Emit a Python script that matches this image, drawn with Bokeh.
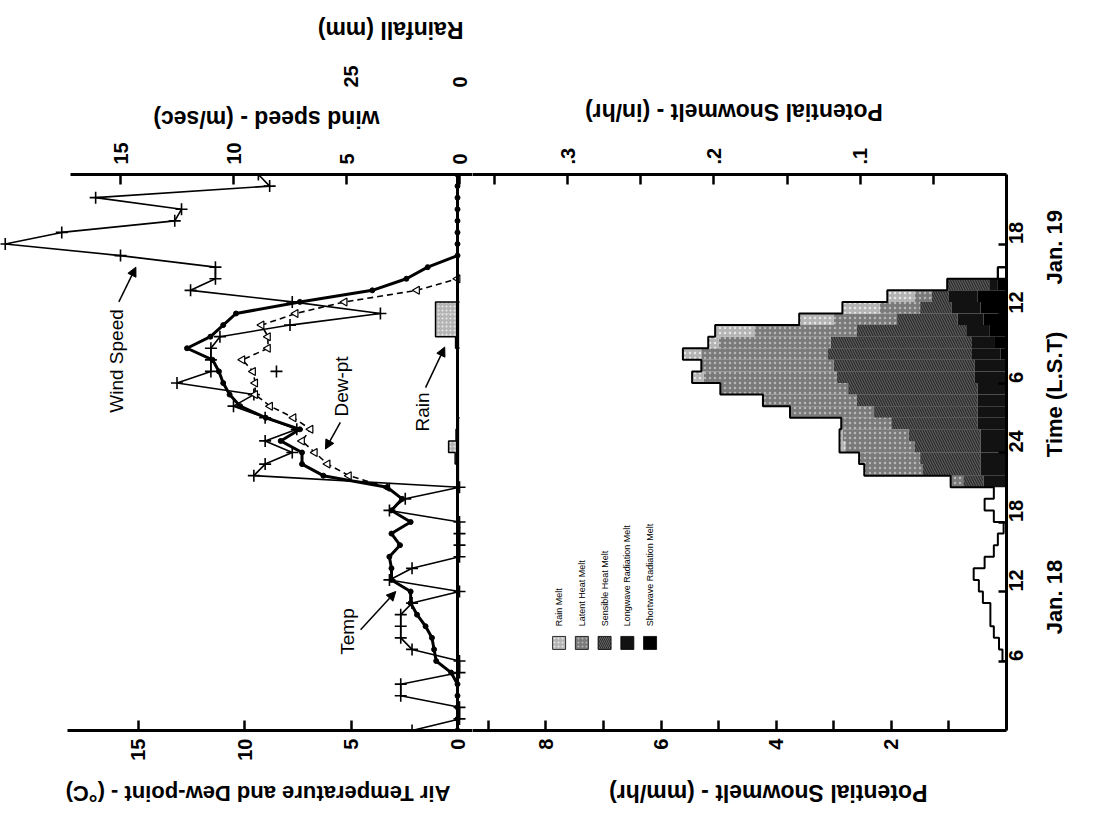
import math
from bokeh.plotting import figure
from bokeh.models import (Range1d, LinearAxis, FixedTicker, Span, Label, Arrow,
                          NormalHead, ColumnDataSource)
from bokeh.layouts import row
from bokeh.embed import file_html
from bokeh.resources import INLINE
from bokeh.core.properties import value

FONT = "Liberation Sans"

# ---------------- data (hours from Jan 18 00:00 L.S.T.) ----------------
hours = list(range(0, 49))
wind_speed = [2.1, 0, 0, 2.6, 2.6, 0, 0, 2.1, 2.6, 2.6, 2.6, 2.1, 0, 3.1, 2.1, 0, 0, 0, 0,
              3.1, 2.4, 0, 9.1, 8.6, 7.4, 8.6, 7.2, 8.6, 10.0, 9.1, 12.5, 11.0, 11.0, 11.0,
              10.6, 7.5, 3.5, 7.4, 11.9, 10.8, 10.8, 15.0, 20.1, 17.6, 12.6, 12.3, 16.1, 8.4, 8.9]
air_temp = [0, 0, 0, 0, 0, 0.3, 1.0, 1.1, 1.2, 1.5, 1.9, 2.2, 2.2, 3.1, 3.1, 3.2, 2.7, 3.1,
            2.2, 3.1, 2.6, 3.3, 6.3, 7.3, 7.3, 8.3, 7.4, 9.0, 10.2, 10.7, 11.0, 11.2, 11.5,
            12.7, 11.6, 11.0, 10.4, 7.4, 4.0, 2.4, 1.4, 0, 0, 0, 0, 0, 0, 0, 0]
dew_hours = list(range(21, 40))
dew_point = [3.3, 5.1, 6.1, 6.7, 7.3, 6.9, 7.7, 8.8, 9.5, 9.5, 9.6, 10.1, 8.9, 8.9, 9.2,
             7.6, 5.3, 1.9, 0.0]
stray_hours = [31]
stray_vals = [8.5]
rain_hours = [21, 22, 23, 24, 25, 26, 33, 34, 35, 36]
rainfall = [0.4, 0.5, 1.0, 2.5, 0.8, 0.4, 0.9, 5.5, 5.5, 5.5]

pre_hours = list(range(6, 21))
pre_melt = [0.07, 0.13, 0.22, 0.28, 0.28, 0.41, 0.48, 0.57, 0.38, 0.22, 0.15, 0.05, 0.22, 0.38, 0.22]
melt_hours = list(range(21, 39))
shortwave = [0, 0, 0, 0, 0, 0, 0, 0, 0, 0, 0, 0.1, 0.2, 0.3, 0.4, 0.45, 0.5, 0.15]
longwave = [0.4, 0.45, 0.45, 0.45, 0.45, 0.5, 0.5, 0.5, 0.5, 0.55, 0.55, 0.5, 0.4, 0.4, 0.45, 0.5, 0.5, 0.15]
sensible = [0.35, 1.0, 1.05, 1.15, 1.25, 1.5, 1.8, 2.1, 2.25, 2.4, 2.45, 2.5, 2.45, 1.9, 1.05, 0.55, 0.3, 0.73]
latent = [0.22, 1.02, 1.06, 1.2, 1.15, 0.87, 1.46, 1.63, 2.22, 2.31, 2.3, 2.2, 1.95, 1.78, 1.1, 0.7, 0.3, 0]
rain_melt = [0, 0, 0, 0.1, 0.05, 0, 0, 0, 0, 0.2, 0, 0.32, 0.18, 0.68, 0.6, 0.65, 0.47, 0]
post_hours = [39]
post_melt = [0.15]

temp_ticks = [0, 5, 10, 15]
wind_ticks = [0, 5, 10, 15]
rain_ticks = [0, 25]
mm_ticks = [2, 4, 6, 8]
mm_minor = [1, 3, 5, 7, 9]
in_ticks = [0.1, 0.2, 0.3]
in_minor = [0.05, 0.15, 0.25, 0.35]
in_labels = [".1", ".2", ".3"]
time_ticks = [6, 12, 18, 24, 30, 36, 42]
time_labels = ["6", "12", "18", "24", "6", "12", "18"]
date_ticks = [8.3, 23.6, 38.5]
date_labels = ["Jan. 18", "Time (L.S.T)", "Jan. 19"]

legend_labels = ["Rain Melt", "Latent Heat Melt", "Sensible Heat Melt",
                 "Longwave Radiation Melt", "Shortwave Radiation Melt"]

# axis titles (upside down) and where each one is anchored along its panel
temp_title = "Air Temperature and Dew-point - (°C)"
wind_title = "wind speed - (m/sec)"
rain_title = "Rainfall (mm)"
mm_title = "Potential Snowmelt - (mm/hr)"
in_title = "Potential Snowmelt - (in/hr)"
temp_title_pos = 18.40     # temperature units
wind_title_pos = 3.66      # temperature units
rain_title_pos = -0.28     # temperature units
mm_title_pos = 6.90        # mm/hr
in_title_pos = 2.15        # mm/hr

# in-plot annotations (temperature units, hours)
annot_text = ["Wind Speed", "Dew-pt", "Rain", "Temp"]
annot_x = [16.0, 5.45, 1.64, 5.16]
annot_y = [31.9, 29.7, 27.5, 8.55]
arrow_x0 = [15.9, 5.5, 1.5, 4.55]
arrow_y0 = [37.0, 26.6, 29.6, 8.7]
arrow_x1 = [15.1, 6.2, 0.6, 2.9]
arrow_y1 = [40.0, 24.3, 33.1, 12.0]

# ---------------- styles ----------------
FRAME_H = 556
TOP = 172
BOTTOM = 86

melt_names = ["shortwave", "longwave", "sensible", "latent", "rain_melt"]
melt_fill = ["#000000", "#121212", "#2c2c2c", "#7a7a7a", "#b4b4b4"]
melt_hatch = [None, None, "left_diagonal_line", "dot", "dot"]
melt_hatch_color = ["#000000", "#000000", "#666666", "#b8b8b8", "#e8e8e8"]


def style_axis(ax, label_size="20px"):
    ax.axis_line_width = 3
    ax.axis_line_color = "black"
    ax.major_tick_in = 10
    ax.major_tick_out = 0
    ax.major_tick_line_width = 2.5
    ax.minor_tick_in = 10
    ax.minor_tick_out = 0
    ax.minor_tick_line_width = 2.5
    ax.minor_tick_line_color = "black"
    ax.major_label_orientation = math.pi / 2
    ax.major_label_text_font = FONT
    ax.major_label_text_font_size = label_size
    ax.major_label_text_font_style = "bold"
    ax.major_label_text_color = "black"


def title_axis(pos, text, standoff, size="23px", range_name="default"):
    ax = LinearAxis(x_range_name=range_name, ticker=FixedTicker(ticks=[pos]),
                    major_label_overrides={pos: text})
    ax.axis_line_color = None
    ax.major_tick_line_color = None
    ax.minor_tick_line_color = None
    ax.major_label_orientation = math.pi
    ax.major_label_standoff = standoff
    ax.major_label_text_font = FONT
    ax.major_label_text_font_size = size
    ax.major_label_text_font_style = "bold"
    ax.major_label_text_color = "black"
    return ax


def step_outline(hrs, vals):
    xs_all, ys_all = [], []
    cx, cy = [], []
    prev = None
    for h, v in zip(hrs, vals):
        if prev is None or h != prev + 1:
            if cx:
                cx.append(0)
                cy.append(prev + 1)
                xs_all.append(cx)
                ys_all.append(cy)
            cx, cy = [0], [h]
        cx += [v, v]
        cy += [h, h + 1]
        prev = h
    cx.append(0)
    cy.append(prev + 1)
    xs_all.append(cx)
    ys_all.append(cy)
    return xs_all, ys_all


# ================= left panel: temperature / wind / rain =================
left = figure(frame_width=472, frame_height=FRAME_H,
              x_range=Range1d(21.456, -0.704), y_range=Range1d(0, 48),
              x_axis_location=None, y_axis_location=None,
              output_backend="svg", toolbar_location=None,
              min_border_left=0, min_border_right=0,
              min_border_top=TOP, min_border_bottom=BOTTOM,
              outline_line_color=None, background_fill_color="white",
              border_fill_color="white")
left.grid.visible = False
left.extra_x_ranges = {"wind": Range1d(20.31, -0.575), "rain": Range1d(105.28, -2.98)}

ax_temp = LinearAxis(ticker=FixedTicker(ticks=temp_ticks), bounds=(-0.704, 18.3))
style_axis(ax_temp)
ax_temp.major_label_standoff = 8
left.add_layout(ax_temp, "below")
left.add_layout(title_axis(temp_title_pos, temp_title, 24, size="22px"), "below")

ax_wind = LinearAxis(x_range_name="wind", ticker=FixedTicker(ticks=wind_ticks),
                     bounds=(-0.575, 17.2))
style_axis(ax_wind)
ax_wind.major_label_standoff = 10
left.add_layout(ax_wind, "above")
left.add_layout(title_axis(wind_title_pos, wind_title, 15), "above")

ax_rain = LinearAxis(x_range_name="rain", ticker=FixedTicker(ticks=rain_ticks))
style_axis(ax_rain)
ax_rain.axis_line_color = None
ax_rain.major_tick_line_color = None
ax_rain.major_label_standoff = 2
left.add_layout(ax_rain, "above")
left.add_layout(title_axis(rain_title_pos, rain_title, 27), "above")

# rain bars
rain_top = [h + 1 for h in rain_hours]
left.quad(left=0, right=rainfall, bottom=rain_hours, top=rain_top, x_range_name="rain",
          fill_color="#b4b4b4", line_color=None, hatch_pattern="dot",
          hatch_color="#e8e8e8", hatch_scale=4, hatch_weight=1)
rx, ry = step_outline(rain_hours, rainfall)
left.multi_line(xs=rx, ys=ry, x_range_name="rain", line_color="black", line_width=1.5)

# zero line
left.add_layout(Span(location=0, dimension="height", line_color="black", line_width=3))

# wind speed
left.line(x=wind_speed, y=hours, x_range_name="wind", line_color="black", line_width=1.6)
left.scatter(x=wind_speed, y=hours, x_range_name="wind", marker="cross", size=12,
             line_color="black", line_width=1.6)

# dew point
left.line(x=dew_point, y=dew_hours, line_color="black", line_width=1.6, line_dash="6 4")
left.scatter(x=dew_point, y=dew_hours, marker="triangle", angle=math.pi / 2, size=8,
             fill_color="white", line_color="black", line_width=1.2)
left.scatter(x=stray_vals, y=stray_hours, marker="cross", size=12, line_color="black",
             line_width=1.6)

# air temperature
left.line(x=air_temp, y=hours, line_color="black", line_width=3)
left.scatter(x=air_temp, y=hours, marker="circle", size=5, fill_color="black",
             line_color="black")

for t, ax_, ay_ in zip(annot_text, annot_x, annot_y):
    left.add_layout(Label(x=ax_, y=ay_, text=t, angle=math.pi / 2, text_align="center",
                          text_baseline="middle", text_font=FONT, text_font_size="19px",
                          text_color="black"))
for x0, y0, x1, y1 in zip(arrow_x0, arrow_y0, arrow_x1, arrow_y1):
    left.add_layout(Arrow(x_start=x0, y_start=y0, x_end=x1, y_end=y1, line_width=1.5,
                          line_color="black",
                          end=NormalHead(size=9, fill_color="black", line_color="black")))

# ================= right panel: potential snowmelt =================
right = figure(frame_width=534, frame_height=FRAME_H,
               x_range=Range1d(9.274, 0), y_range=Range1d(0, 48),
               x_axis_location=None, y_axis_location=None,
               output_backend="svg", toolbar_location=None,
               min_border_left=0, min_border_right=76,
               min_border_top=TOP, min_border_bottom=BOTTOM,
               outline_line_color=None, background_fill_color="white",
               border_fill_color="white")
right.grid.visible = False
right.extra_x_ranges = {"inhr": Range1d(9.274 / 25.4, 0)}

ax_mm = LinearAxis(ticker=FixedTicker(ticks=mm_ticks, minor_ticks=mm_minor))
style_axis(ax_mm)
ax_mm.major_label_standoff = 8
right.add_layout(ax_mm, "below")
right.add_layout(title_axis(mm_title_pos, mm_title, 34), "below")

ax_in = LinearAxis(x_range_name="inhr", ticker=FixedTicker(ticks=in_ticks, minor_ticks=in_minor),
                   major_label_overrides=dict(zip(in_ticks, in_labels)))
style_axis(ax_in)
ax_in.major_label_standoff = 10
right.add_layout(ax_in, "above")
right.add_layout(title_axis(in_title_pos, in_title, 27), "above")

ax_time = LinearAxis(ticker=FixedTicker(ticks=time_ticks),
                     major_label_overrides=dict(zip(time_ticks, time_labels)))
style_axis(ax_time)
ax_time.major_tick_in = 8
ax_time.major_label_standoff = 9
right.add_layout(ax_time, "right")

ax_date = LinearAxis(ticker=FixedTicker(ticks=date_ticks),
                     major_label_overrides=dict(zip(date_ticks, date_labels)))
style_axis(ax_date, label_size="22px")
ax_date.axis_line_color = None
ax_date.major_tick_line_color = None
ax_date.major_label_standoff = 22
right.add_layout(ax_date, "right")

# unstacked melt (outline only)
right.quad(left=0, right=pre_melt, bottom=pre_hours, top=[h + 1 for h in pre_hours],
           fill_color="white", line_color=None)
right.quad(left=0, right=post_melt, bottom=post_hours, top=[h + 1 for h in post_hours],
           fill_color="white", line_color="black", line_width=2)

melt_src = ColumnDataSource(dict(
    mid=[h + 0.5 for h in melt_hours], shortwave=shortwave, longwave=longwave,
    sensible=sensible, latent=latent, rain_melt=rain_melt))
right.hbar_stack(melt_names, y="mid", height=1.0, source=melt_src,
                 fill_color=melt_fill, line_color=None, hatch_pattern=melt_hatch,
                 hatch_color=melt_hatch_color, hatch_scale=5, hatch_weight=1)

melt_total = [a + b + c + d + e for a, b, c, d, e in
              zip(shortwave, longwave, sensible, latent, rain_melt)]
env_hours = pre_hours + melt_hours + post_hours
env_vals = pre_melt + melt_total + post_melt
ex, ey = step_outline(env_hours, env_vals)
right.multi_line(xs=ex, ys=ey, line_color="black", line_width=2)

# legend (rotated, drawn manually)
leg_x0, leg_dx = 7.77, -0.395
leg_box_y, leg_text_y = 7.56, 9.0
leg_x = [leg_x0 + i * leg_dx for i in range(len(legend_labels))]
leg_fill = [melt_fill[4], melt_fill[3], melt_fill[2], melt_fill[1], melt_fill[0]]
leg_hatch = [melt_hatch[4], melt_hatch[3], melt_hatch[2], melt_hatch[1], melt_hatch[0]]
leg_hcol = [melt_hatch_color[4], melt_hatch_color[3], melt_hatch_color[2],
            melt_hatch_color[1], melt_hatch_color[0]]
leg_src = ColumnDataSource(dict(x=leg_x, y=[leg_box_y] * len(leg_x), fill=leg_fill,
                                hatch=leg_hatch, hcol=leg_hcol,
                                ty=[leg_text_y] * len(leg_x), label=legend_labels))
right.scatter(x="x", y="y", source=leg_src, marker="square", size=13, fill_color="fill",
              line_color="black", line_width=0.8, hatch_pattern="hatch", hatch_color="hcol",
              hatch_scale=4, hatch_weight=1)
right.text(x="x", y="ty", text="label", source=leg_src, angle=math.pi / 2,
           text_align="left", text_baseline="middle", text_font=value(FONT),
           text_font_size="9px", text_color="black")

layout = row(left, right)
open("out.html", "w").write(file_html(layout, INLINE))
